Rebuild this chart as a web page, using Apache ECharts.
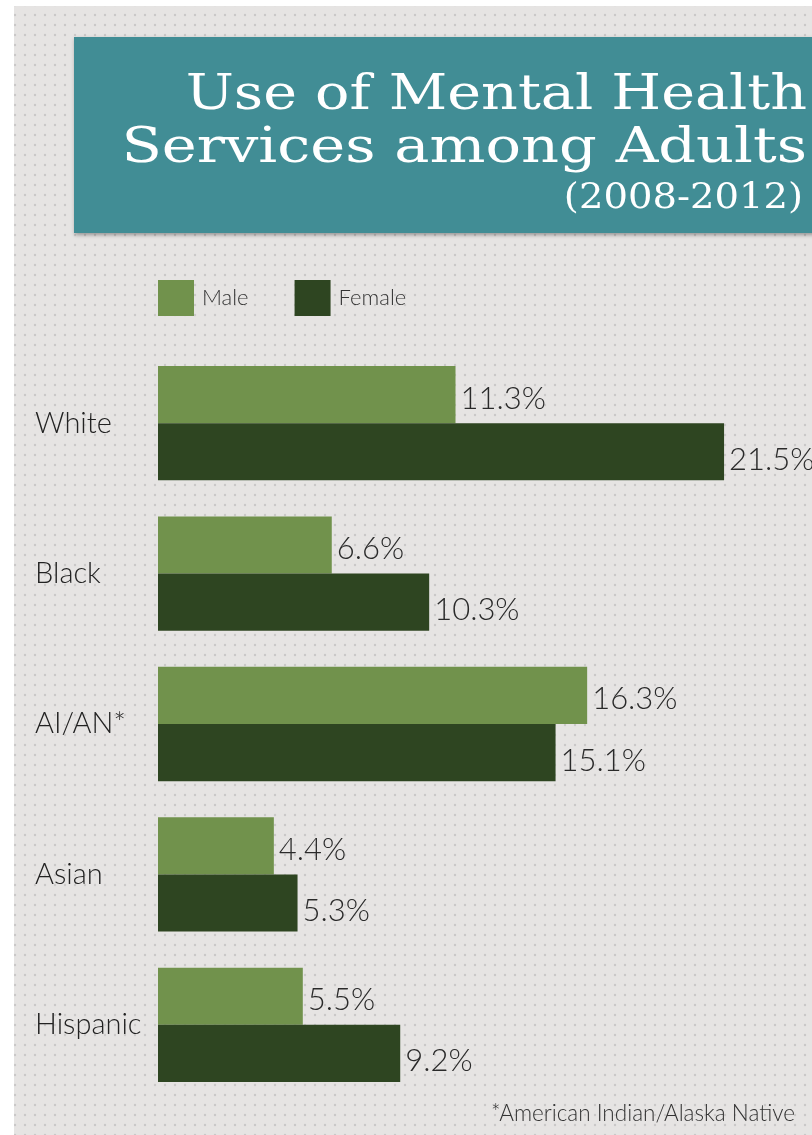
<!DOCTYPE html>
<html>
<head>
<meta charset="utf-8">
<script src="https://cdn.jsdelivr.net/npm/echarts@6/dist/echarts.min.js"></script>
<style>
html,body{margin:0;padding:0;background:#fff;}
#chart{width:812px;height:1135px;}
</style>
</head>
<body>
<div id="chart"></div>
<script>
// ---- data ----
var categories = ['White', 'Black', 'AI/AN*', 'Asian', 'Hispanic'];
var maleValues = [11.3, 6.6, 16.3, 4.4, 5.5];
var femaleValues = [21.5, 10.3, 15.1, 5.3, 9.2];
var seriesNames = ['Male', 'Female'];
var titleLines = ['Use of Mental Health', 'Services among Adults', '(2008-2012)'];
var footnote = '*American Indian/Alaska Native';

// ---- dotted background pattern ----
var pat = document.createElement('canvas');
pat.width = 10; pat.height = 10;
var pc = pat.getContext('2d');
pc.fillStyle = '#e6e4e3';
pc.fillRect(0, 0, 10, 10);
pc.fillStyle = '#c9c7c7';
pc.beginPath();
pc.arc(5, 5, 1.2, 0, Math.PI * 2);
pc.fill();

var chart = echarts.init(document.getElementById('chart'), null, {renderer: 'canvas'});
var labelFont = 'Lato, "Noto Sans", sans-serif';
var titleFont = '"DejaVu Serif", serif';

function pct(p) { return p.value.toFixed(1) + '%'; }

var option = {
  backgroundColor: {image: pat, repeat: 'repeat'},
  animation: false,
  legend: {
    left: 153, top: 275,
    icon: 'rect',
    itemWidth: 36, itemHeight: 36,
    itemGap: 46,
    data: seriesNames,
    textStyle: {fontFamily: labelFont, fontSize: 22, color: '#333', fontWeight: 300, padding: [0, 0, 0, 3]}
  },
  grid: {left: 158, top: 348, right: 0, height: 752, containLabel: false},
  xAxis: {type: 'value', min: 0, max: 24.84, show: false},
  yAxis: {
    type: 'category', inverse: true, data: categories,
    axisLine: {show: false}, axisTick: {show: false}, splitLine: {show: false},
    axisLabel: {align: 'left', margin: 123, fontFamily: labelFont, fontSize: 29, color: '#222', fontWeight: 300}
  },
  series: [
    {
      name: seriesNames[0], type: 'bar', data: maleValues,
      barGap: '0%', barCategoryGap: '24%',
      itemStyle: {color: '#71924c'},
      label: {show: true, position: 'right', distance: 5, offset: [0, 4], formatter: pct,
        fontFamily: labelFont, fontSize: 31, color: '#2a2a2a', fontWeight: 300}
    },
    {
      name: seriesNames[1], type: 'bar', data: femaleValues,
      barGap: '0%', barCategoryGap: '24%',
      itemStyle: {color: '#2e4521'},
      label: {show: true, position: 'right', distance: 5, offset: [0, 8], formatter: pct,
        fontFamily: labelFont, fontSize: 31, color: '#2a2a2a', fontWeight: 300}
    }
  ],
  graphic: [
    {type: 'rect', left: 0, top: 0, shape: {width: 812, height: 6}, style: {fill: '#ffffff'}, z: 1},
    {type: 'rect', left: 0, top: 0, shape: {width: 14, height: 1135}, style: {fill: '#ffffff'}, z: 1},
    {type: 'rect', left: 74, top: 37, shape: {width: 760, height: 196},
      style: {fill: '#418d95', shadowBlur: 4, shadowColor: 'rgba(0,0,0,0.35)', shadowOffsetX: 1, shadowOffsetY: 2}, z: 2},
    {type: 'text', x: 807, y: 73, scaleX: 1.19, z: 3,
      style: {text: titleLines[0], fill: '#ffffff', font: '48px ' + titleFont, textAlign: 'right', textVerticalAlign: 'top'}},
    {type: 'text', x: 807, y: 126, scaleX: 1.23, z: 3,
      style: {text: titleLines[1], fill: '#ffffff', font: '48px ' + titleFont, textAlign: 'right', textVerticalAlign: 'top'}},
    {type: 'text', x: 803, y: 181, scaleX: 1.07, z: 3,
      style: {text: titleLines[2], fill: '#ffffff', font: '36px ' + titleFont, textAlign: 'right', textVerticalAlign: 'top'}},
    {type: 'text', x: 795, y: 1114, z: 3,
      style: {text: footnote, fill: '#333333', font: '300 22.5px ' + labelFont, textAlign: 'right', textVerticalAlign: 'middle'}}
  ]
};
chart.setOption(option);
</script>
</body>
</html>
